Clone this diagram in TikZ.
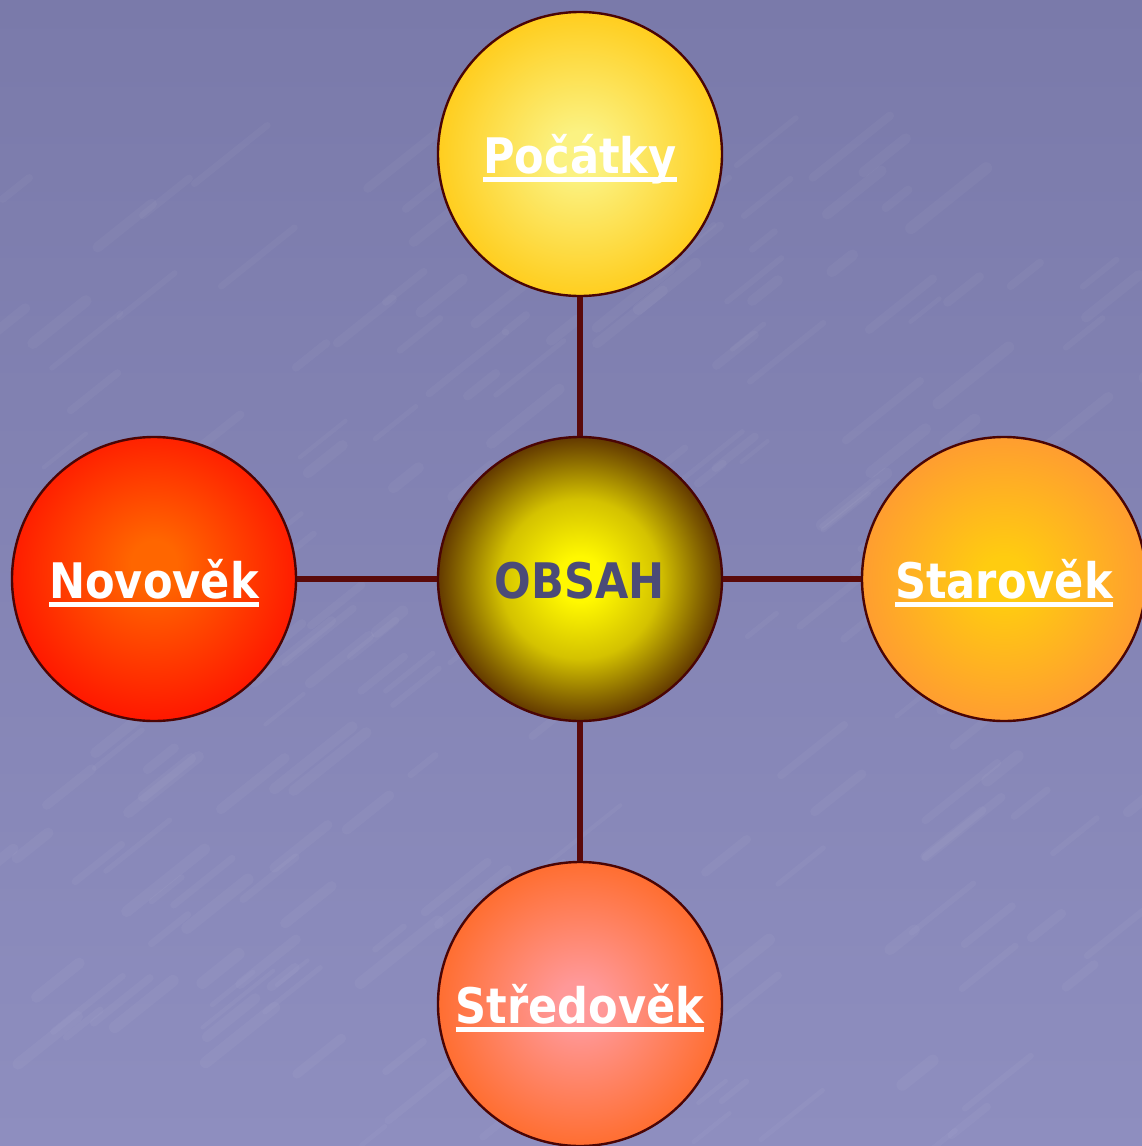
\documentclass[tikz,border=0pt]{standalone}
\usepackage{fontspec}
\newfontfamily\lblfont{DejaVu Sans}[FakeStretch=0.88]

% palette
\definecolor{bgtop}{HTML}{7A7AAA}
\definecolor{bgbot}{HTML}{8E8EBF}
\definecolor{rim}{HTML}{4A0505}
\definecolor{link}{HTML}{5A0A0A}
\definecolor{obsahtext}{HTML}{4B4B78}
\definecolor{pocIn}{HTML}{FBF282}
\definecolor{pocOut}{HTML}{FFCC1A}
\definecolor{obsIn}{HTML}{FFF800}
\definecolor{obsMid}{HTML}{D4C200}
\definecolor{obsDeep}{HTML}{8A6A00}
\definecolor{obsOut}{HTML}{451400}
\definecolor{staIn}{HTML}{FFCC10}
\definecolor{staOut}{HTML}{FF9933}
\definecolor{novIn}{HTML}{FF6600}
\definecolor{novOut}{HTML}{FF1200}
\definecolor{strIn}{HTML}{FF9898}
\definecolor{strOut}{HTML}{FF6822}

% radial fills; the rim of each ball lies near 30bp of the shading
\pgfdeclareradialshading{pocshade}{\pgfpoint{0bp}{0bp}}{color(0bp)=(pocIn); color(4bp)=(pocIn); color(26bp)=(pocOut); color(50bp)=(pocOut)}
\pgfdeclareradialshading{obsshade}{\pgfpoint{0bp}{0bp}}{color(0bp)=(obsIn); color(4bp)=(obsIn); color(14bp)=(obsMid); color(21bp)=(obsDeep); color(28bp)=(obsOut); color(50bp)=(obsOut)}
\pgfdeclareradialshading{stashade}{\pgfpoint{0bp}{0bp}}{color(0bp)=(staIn); color(4bp)=(staIn); color(27bp)=(staOut); color(50bp)=(staOut)}
\pgfdeclareradialshading{novshade}{\pgfpoint{0bp}{3bp}}{color(0bp)=(novIn); color(4bp)=(novIn); color(28bp)=(novOut); color(50bp)=(novOut)}
\pgfdeclareradialshading{strshade}{\pgfpoint{0bp}{0bp}}{color(0bp)=(strIn); color(4bp)=(strIn); color(28bp)=(strOut); color(50bp)=(strOut)}

% hyperlink-style underline: a rule set just below the baseline
\newcommand{\linkword}[1]{\setbox0\hbox{#1}\rlap{\rule[-9pt]{\wd0}{5pt}}\box0}

\tikzset{
  ball/.style={circle, draw=rim, line width=2.4pt, minimum size=284pt, inner sep=0pt},
  spoke/.style={draw=link, line width=5.5pt},
  topic/.style={font=\lblfont\bfseries\fontsize{49pt}{58pt}\selectfont, text=white, anchor=base, inner sep=0pt},
  hub/.style={font=\lblfont\bfseries\fontsize{49pt}{58pt}\selectfont, text=obsahtext, anchor=base, inner sep=0pt}
}

\begin{document}
\begin{tikzpicture}[x=1pt, y=-1pt]
  % slide background
  \useasboundingbox (0,0) rectangle (1142,1146);
  \shade[top color=bgtop, bottom color=bgbot] (0,0) rectangle (1142,1146);
  % faint marbled streaks of the backdrop
  \begin{scope}[white, opacity=0.035, line cap=round]
    \pgfmathsetseed{7}
    \foreach \i in {1,...,220} {
      \pgfmathsetmacro{\px}{rnd*1180-20}
      \pgfmathsetmacro{\py}{rnd*1000+150}
      \pgfmathsetmacro{\len}{rnd*60+20}
      \pgfmathsetmacro{\wd}{rnd*8+4}
      \draw[line width=\wd pt] (\px,\py) -- ++(\len,-0.8*\len);
    }
  \end{scope}

  % circles
  \node[ball, shading=obsshade] (hubc) at (580,579) {};
  \node[ball, shading=pocshade] (pocc) at (580,154) {};
  \node[ball, shading=novshade] (novc) at (154,579) {};
  \node[ball, shading=stashade] (stac) at (1004,579) {};
  \node[ball, shading=strshade] (strc) at (580,1004) {};

  % spokes from the hub
  \draw[spoke] (hubc) -- (pocc);
  \draw[spoke] (hubc) -- (novc);
  \draw[spoke] (hubc) -- (stac);
  \draw[spoke] (hubc) -- (strc);

  % labels
  \node[hub] (hubt) at ([yshift=-19pt]hubc.center) {OBSAH};
  \node[topic] (poct) at ([yshift=-19pt]pocc.center) {\linkword{Počátky}};
  \node[topic] (novt) at ([yshift=-19pt]novc.center) {\linkword{Novověk}};
  \node[topic] (stat) at ([yshift=-19pt]stac.center) {\linkword{Starověk}};
  \node[topic] (strt) at ([yshift=-19pt]strc.center) {\linkword{Středověk}};
\end{tikzpicture}
\end{document}
